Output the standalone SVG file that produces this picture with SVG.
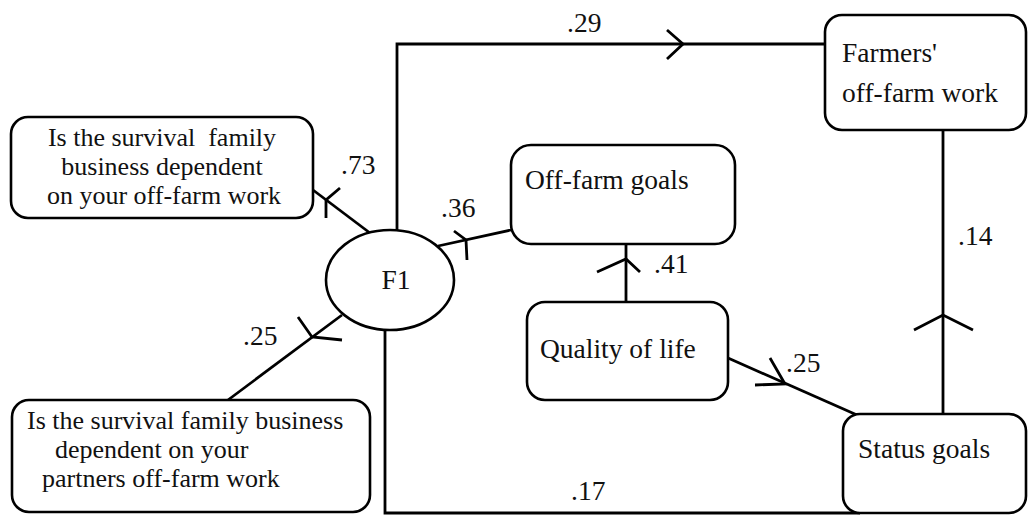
<svg xmlns="http://www.w3.org/2000/svg" width="1028" height="515" viewBox="0 0 1028 515">
  <style>
    .box { fill: #fff; stroke: #000; stroke-width: 2.6; }
    .edge { fill: none; stroke: #000; stroke-width: 2.8; stroke-linejoin: miter; }
    .head { fill: none; stroke: #000; stroke-width: 2.8; stroke-linecap: butt; stroke-linejoin: miter; }
    text { font-family: "Liberation Serif", "Times New Roman", serif; font-size: 27.5px; fill: #111; }
    .multi { font-size: 26px; }
    .mid { text-anchor: middle; }
  </style>
  <rect width="1028" height="515" fill="#fff"/>

  <!-- connectors and path coefficients -->
  <g id="connectors">
    <!-- F1 to Farmers' off-farm work -->
    <polyline class="edge" points="397,231 397,44 825,44"/>
    <path class="head" d="M667,30 L683,44 L667,59"/>
    <text x="567" y="32">.29</text>

    <!-- F1 to indicator (own off-farm work) -->
    <line class="edge" x1="313" y1="190" x2="370" y2="233"/>
    <path class="head" d="M340,188 L326,200 L326,218"/>
    <text x="341" y="174">.73</text>

    <!-- F1 to indicator (partner's off-farm work) -->
    <line class="edge" x1="228" y1="400" x2="342" y2="315"/>
    <path class="head" d="M298,317 L312,337 L342,340"/>
    <text x="243" y="345">.25</text>

    <!-- F1 to Off-farm goals -->
    <line class="edge" x1="438" y1="246" x2="511" y2="230"/>
    <path class="head" d="M454,231 L466,240 L467,260"/>
    <text x="441" y="217">.36</text>

    <!-- Quality of life to Off-farm goals -->
    <line class="edge" x1="626" y1="302" x2="626" y2="244"/>
    <path class="head" d="M597,272 L626,259 L640,272"/>
    <text x="654" y="273">.41</text>

    <!-- Quality of life to Status goals -->
    <line class="edge" x1="728" y1="358" x2="857" y2="415"/>
    <path class="head" d="M770,358 L785,384 L755,385"/>
    <text x="786" y="372">.25</text>

    <!-- Status goals to Farmers' off-farm work -->
    <line class="edge" x1="943" y1="414" x2="943" y2="130"/>
    <path class="head" d="M914,330 L943,315 L973,330"/>
    <text x="958" y="245">.14</text>

    <!-- F1 to Status goals along the bottom -->
    <polyline class="edge" points="385,329 385,513 860,513"/>
    <text x="571" y="500">.17</text>
  </g>

  <!-- latent factor -->
  <g id="F1">
    <ellipse class="box" cx="390" cy="280" rx="64" ry="50"/>
    <text x="396" y="289" class="mid">F1</text>
  </g>

  <g id="own-off-farm-work">
    <rect class="box" x="11" y="117" width="302" height="101" rx="17"/>
    <text x="162" y="146" class="mid multi" xml:space="preserve">Is the survival  family</text>
    <text x="162" y="175" class="mid multi">business dependent</text>
    <text x="164" y="204" class="mid multi">on your off-farm work</text>
  </g>

  <g id="partner-off-farm-work">
    <rect class="box" x="12" y="400" width="358" height="112" rx="17"/>
    <text x="27" y="429" class="multi">Is the survival family business</text>
    <text x="55" y="458" class="multi">dependent on your</text>
    <text x="42" y="487" class="multi">partners off-farm work</text>
  </g>

  <g id="off-farm-goals">
    <rect class="box" x="511" y="145" width="224" height="99" rx="20"/>
    <text x="525" y="189">Off-farm goals</text>
  </g>

  <g id="quality-of-life">
    <rect class="box" x="527" y="302" width="201" height="98" rx="18"/>
    <text x="540" y="358">Quality of life</text>
  </g>

  <g id="farmers-off-farm-work">
    <rect class="box" x="825" y="15" width="201" height="115" rx="17"/>
    <text x="842" y="62">Farmers'</text>
    <text x="842" y="102">off-farm work</text>
  </g>

  <g id="status-goals">
    <rect class="box" x="843" y="414" width="183" height="99" rx="17"/>
    <text x="858" y="458">Status goals</text>
  </g>
</svg>
